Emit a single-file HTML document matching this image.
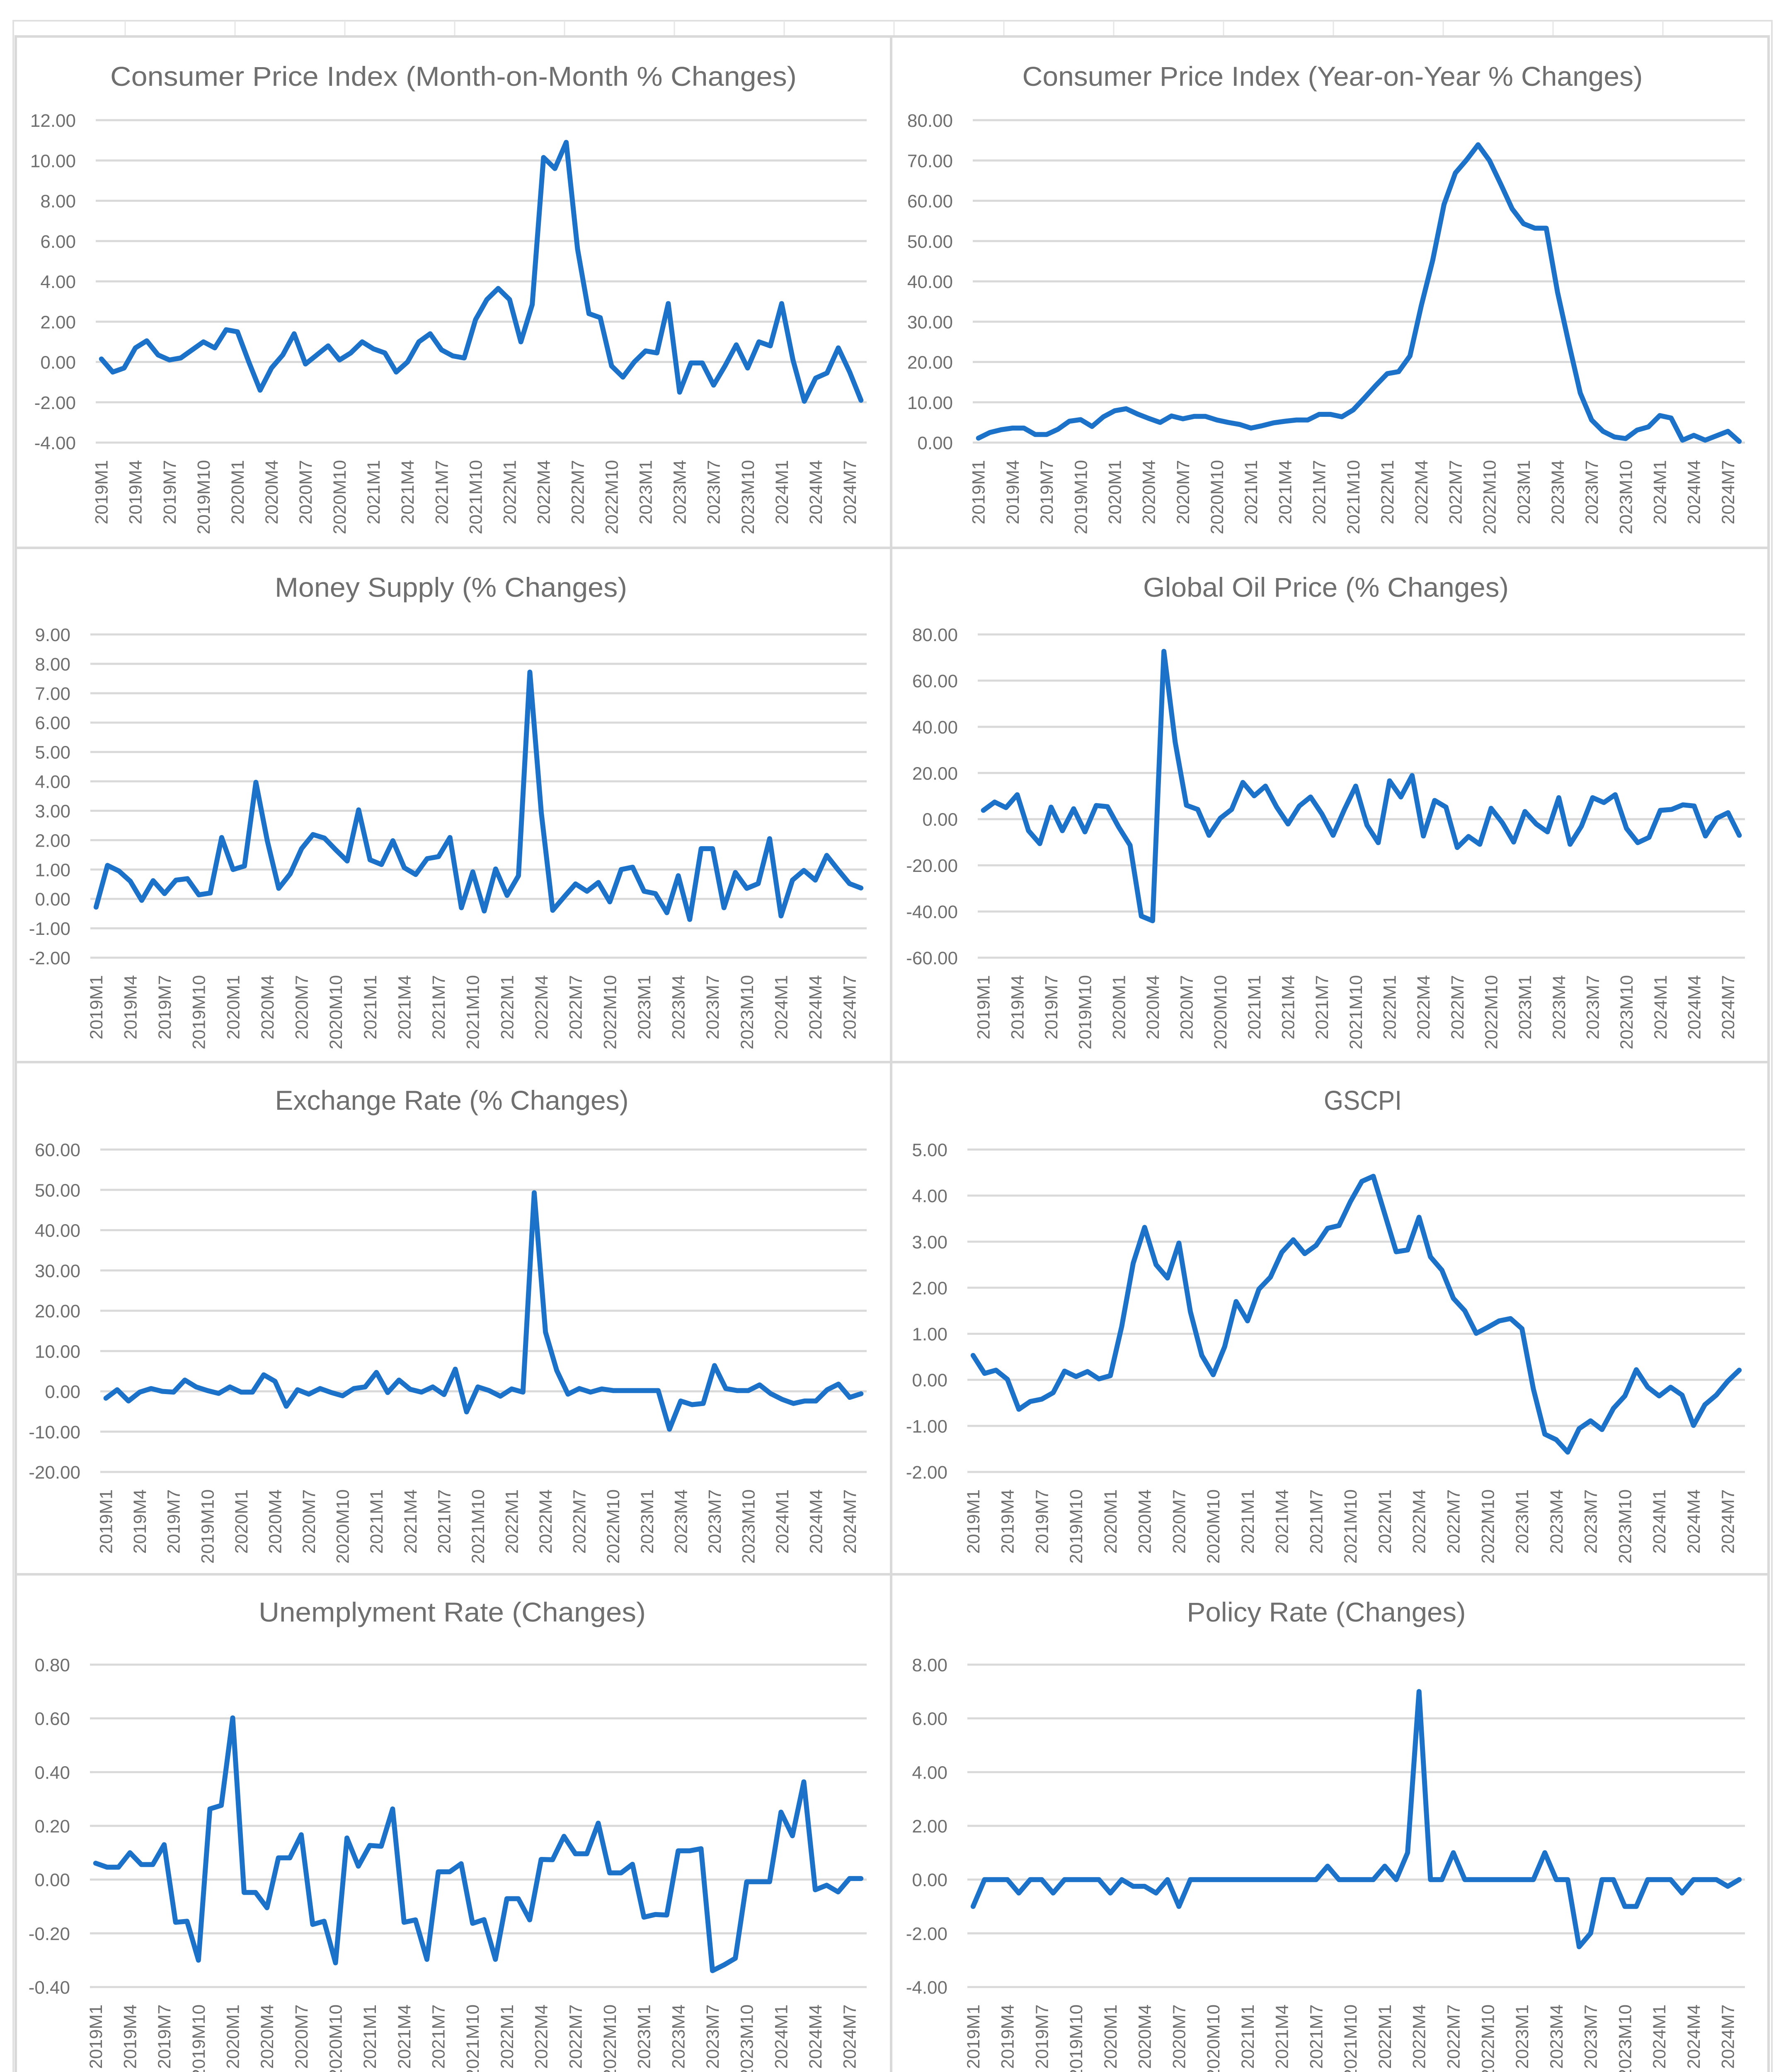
<!DOCTYPE html>
<html><head><meta charset="utf-8"><title>Macro indicators</title>
<style>
html,body{margin:0;padding:0;background:#fff;width:4297px;height:5088px;overflow:hidden}
svg{display:block;position:absolute;left:0;top:0}
</style></head>
<body>
<svg id="root" xmlns="http://www.w3.org/2000/svg" width="4297" height="5088" viewBox="0 0 4297 5088"></svg>
<script>
const categories = ["2019M1","2019M2","2019M3","2019M4","2019M5","2019M6","2019M7","2019M8","2019M9","2019M10","2019M11","2019M12",
"2020M1","2020M2","2020M3","2020M4","2020M5","2020M6","2020M7","2020M8","2020M9","2020M10","2020M11","2020M12",
"2021M1","2021M2","2021M3","2021M4","2021M5","2021M6","2021M7","2021M8","2021M9","2021M10","2021M11","2021M12",
"2022M1","2022M2","2022M3","2022M4","2022M5","2022M6","2022M7","2022M8","2022M9","2022M10","2022M11","2022M12",
"2023M1","2023M2","2023M3","2023M4","2023M5","2023M6","2023M7","2023M8","2023M9","2023M10","2023M11","2023M12",
"2024M1","2024M2","2024M3","2024M4","2024M5","2024M6","2024M7","2024M8"];

const cpiMomValues = [0.15,-0.5,-0.3,0.7,1.05,0.35,0.1,0.2,0.6,1.0,0.7,1.6,1.5,0,-1.4,-0.3,0.35,1.4,-0.1,0.35,0.8,0.1,0.45,1.0,0.65,0.45,-0.5,0,1.0,1.4,0.6,0.3,0.2,2.1,3.1,3.65,3.1,1.0,2.85,10.15,9.6,10.9,5.6,2.4,2.2,-0.2,-0.75,0,0.55,0.45,2.9,-1.5,-0.05,-0.05,-1.15,-0.2,0.85,-0.3,1.0,0.8,2.9,0.1,-1.95,-0.8,-0.55,0.7,-0.5,-1.9];
const cpiYoyValues = [1.1,2.5,3.2,3.6,3.6,2.0,2.0,3.3,5.3,5.7,4.0,6.4,7.9,8.4,7.1,6.0,5.0,6.6,5.9,6.5,6.5,5.6,5.0,4.5,3.6,4.2,4.9,5.3,5.6,5.6,7.0,7.0,6.4,8.1,11.1,14.2,17.1,17.6,21.5,34.0,45.2,59.1,66.9,70.2,73.9,70.0,64.1,58.0,54.3,53.2,53.2,37.3,24.5,12.3,5.6,2.8,1.4,1.0,3.1,3.9,6.7,6.1,0.6,1.8,0.6,1.7,2.8,0.3];
const moneyValues = [-0.28,1.14,0.95,0.6,-0.05,0.62,0.18,0.64,0.69,0.14,0.2,2.09,1.0,1.12,3.97,1.98,0.36,0.85,1.71,2.19,2.07,1.67,1.29,3.03,1.33,1.17,1.98,1.06,0.83,1.37,1.44,2.09,-0.3,0.92,-0.41,1.02,0.12,0.79,7.72,2.93,-0.39,0.07,0.51,0.26,0.56,-0.1,1.0,1.08,0.26,0.18,-0.47,0.79,-0.7,1.71,1.71,-0.3,0.9,0.36,0.52,2.05,-0.58,0.64,0.97,0.64,1.48,0.99,0.52,0.37];
const oilValues = [3.8,7.4,5.0,10.6,-5.0,-10.6,5.2,-5.0,4.5,-5.5,5.9,5.4,-3.5,-11.3,-42,-44,72.7,33.3,6.0,4.2,-7.0,0.4,4.2,15.9,10.1,14.3,5.2,-2.1,5.7,9.6,2.3,-7.0,4.2,14.3,-2.6,-10.2,16.6,9.6,18.9,-7.3,8.1,5.2,-12.3,-7.5,-10.9,4.7,-1.6,-9.9,3.3,-2.1,-5.5,9.3,-10.9,-3.1,9.3,7.2,10.6,-4.0,-10.2,-7.9,3.8,4.2,6.2,5.7,-7.3,0.4,2.8,-7.0];
const fxValues = [-1.7,0.4,-2.4,-0.2,0.7,0,-0.2,2.8,1.1,0.2,-0.5,1.1,-0.2,-0.2,4.1,2.5,-3.7,0.4,-0.7,0.7,-0.3,-1.1,0.7,1.1,4.7,-0.3,2.8,0.5,-0.2,1.1,-0.8,5.5,-5.1,1.1,0.2,-1.2,0.6,-0.2,49.3,14.7,5.2,-0.7,0.7,-0.2,0.6,0.2,0.2,0.2,0.2,0.2,-9.4,-2.4,-3.3,-3.0,6.4,0.7,0.2,0.2,1.6,-0.6,-2.0,-3.0,-2.4,-2.4,0.4,1.8,-1.5,-0.6];
const gscpiValues = [0.53,0.14,0.21,0.01,-0.64,-0.47,-0.42,-0.28,0.19,0.07,0.18,0.02,0.09,1.16,2.53,3.31,2.5,2.21,2.97,1.48,0.53,0.11,0.72,1.7,1.28,1.97,2.23,2.77,3.04,2.74,2.92,3.29,3.35,3.87,4.31,4.42,3.6,2.78,2.82,3.53,2.67,2.38,1.77,1.5,1.01,1.14,1.28,1.33,1.11,-0.2,-1.18,-1.3,-1.57,-1.06,-0.89,-1.08,-0.62,-0.35,0.22,-0.16,-0.35,-0.16,-0.33,-0.99,-0.54,-0.33,-0.03,0.21];
const unempValues = [0.061,0.046,0.046,0.10,0.056,0.056,0.13,-0.159,-0.155,-0.30,0.263,0.276,0.602,-0.048,-0.048,-0.105,0.081,0.081,0.167,-0.167,-0.155,-0.31,0.155,0.05,0.127,0.124,0.263,-0.159,-0.15,-0.297,0.029,0.029,0.059,-0.163,-0.149,-0.297,-0.071,-0.071,-0.15,0.075,0.074,0.161,0.096,0.096,0.21,0.025,0.025,0.057,-0.14,-0.13,-0.132,0.107,0.107,0.115,-0.339,-0.318,-0.293,-0.008,-0.008,-0.008,0.251,0.163,0.364,-0.038,-0.021,-0.046,0.004,0.004];
const policyValues = [-1.0,0,0,0,-0.5,0,0,-0.5,0,0,0,0,-0.5,0,-0.25,-0.25,-0.5,0,-1.0,0,0,0,0,0,0,0,0,0,0,0,0,0.5,0,0,0,0,0.5,0,1.0,7.0,0,0,1.0,0,0,0,0,0,0,0,1.0,0,0,-2.5,-2.0,0,0,-1.0,-1.0,0,0,0,-0.5,0,0,0,-0.25,0];

const cpiMomTicks = [12,10,8,6,4,2,0,-2,-4];
const cpiYoyTicks = [80,70,60,50,40,30,20,10,0];
const moneyTicks = [9,8,7,6,5,4,3,2,1,0,-1,-2];
const oilTicks = [80,60,40,20,0,-20,-40,-60];
const fxTicks = [60,50,40,30,20,10,0,-10,-20];
const gscpiTicks = [5,4,3,2,1,0,-1,-2];
const unempTicks = [0.8,0.6,0.4,0.2,0,-0.2,-0.4];
const policyTicks = [8,6,4,2,0,-2,-4];

const chartTitles = ["Consumer Price Index (Month-on-Month % Changes)","Consumer Price Index (Year-on-Year % Changes)","Money Supply (% Changes)","Global Oil Price (% Changes)","Exchange Rate (% Changes)","GSCPI","Unemplyment Rate (Changes)","Policy Rate (Changes)"];

const NS = "http://www.w3.org/2000/svg";
const root = document.getElementById('root');
function mk(tag, attrs, parent){
  const e = document.createElementNS(NS, tag);
  for (const k in attrs) e.setAttribute(k, attrs[k]);
  (parent||root).appendChild(e);
  return e;
}

const frame = mk('rect',{x:32,y:50,width:4243,height:4979,fill:'none',stroke:'#e0e0e0','stroke-width':4});


for (let x = 302; x < 4270; x += 265) {
  const v = mk('line',{x1:x,y1:50,x2:x,y2:88,stroke:'#e6e6e6','stroke-width':3});
  
  
}

const layout = [
 {key:'cpi-mom', vals:cpiMomValues, ticks:cpiMomTicks, px:38, py:88, pw:2112, ph:1234, pl:231, pr:2091, gt:290, gb:1068, tx:1094, ty:183, tw:1656},
 {key:'cpi-yoy', vals:cpiYoyValues, ticks:cpiYoyTicks, px:2150, py:88, pw:2117, ph:1234, pl:2347, pr:4210, gt:290, gb:1068, tx:3215, ty:183, tw:1497},
 {key:'money-supply', vals:moneyValues, ticks:moneyTicks, px:38, py:1322, pw:2112, ph:1241, pl:218, pr:2091, gt:1531, gb:2311, tx:1088, ty:1416, tw:850},
 {key:'oil-price', vals:oilValues, ticks:oilTicks, px:2150, py:1322, pw:2117, ph:1241, pl:2359, pr:4210, gt:1531, gb:2311, tx:3199, ty:1416, tw:882},
 {key:'exchange-rate', vals:fxValues, ticks:fxTicks, px:38, py:2563, pw:2112, ph:1236, pl:242, pr:2091, gt:2774, gb:3552, tx:1090, ty:2654, tw:853},
 {key:'gscpi', vals:gscpiValues, ticks:gscpiTicks, px:2150, py:2563, pw:2117, ph:1236, pl:2334, pr:4210, gt:2774, gb:3552, tx:3288, ty:2654, tw:188},
 {key:'unemployment', vals:unempValues, ticks:unempTicks, px:38, py:3799, pw:2112, ph:1224, pl:217, pr:2091, gt:4017, gb:4795, tx:1091, ty:3889, tw:934},
 {key:'policy-rate', vals:policyValues, ticks:policyTicks, px:2150, py:3799, pw:2117, ph:1224, pl:2334, pr:4210, gt:4017, gb:4795, tx:3200, ty:3889, tw:673}
];

layout.forEach((c, ci) => {
  const g = mk('g',{});
  
  
  const border = mk('rect',{x:c.px,y:c.py,width:c.pw,height:c.ph,fill:'#fff',stroke:'#d9d9d9','stroke-width':6},g);
  
  

  const t = mk('text',{x:c.tx,y:c.ty+24,'text-anchor':'middle','font-family':'Liberation Sans, sans-serif','font-size':66,fill:'#6f6f6f',textLength:c.tw,lengthAdjust:'spacingAndGlyphs'},g);
  t.textContent = chartTitles[ci];
  
  

  const tmax = c.ticks[0], tmin = c.ticks[c.ticks.length-1];
  const yScale = v => c.gt + (tmax - v) / (tmax - tmin) * (c.gb - c.gt);
  const step = (c.pr - c.pl) / categories.length;
  const xScale = i => c.pl + (i + 0.5) * step;

  c.ticks.forEach(tv => {
    const y = yScale(tv);
    const gl = mk('line',{x1:c.pl,y1:y,x2:c.pr,y2:y,stroke:'#d9d9d9','stroke-width':5},g);
    
    
    const lab = mk('text',{x:c.pl-48,y:y+16,'text-anchor':'end','font-family':'Liberation Sans, sans-serif','font-size':44,fill:'#6f6f6f'},g);
    lab.textContent = tv.toFixed(2);
    
    
  });

  categories.forEach((cat, i) => {
    if (i % 3 !== 0) return;
    const x = xScale(i);
    const lab = mk('text',{transform:`translate(${x+15},${c.gb+42}) rotate(-90)`,'text-anchor':'end','font-family':'Liberation Sans, sans-serif','font-size':43,fill:'#6f6f6f'},g);
    lab.textContent = cat;
    
    
  });

  const pts = c.vals.map((v,i) => xScale(i).toFixed(1) + ',' + yScale(v).toFixed(1)).join(' ');
  const line = mk('polyline',{points:pts,fill:'none',stroke:'#1b72c8','stroke-width':12,'stroke-linejoin':'round','stroke-linecap':'round'},g);
  
  
});
</script>
</body></html>
